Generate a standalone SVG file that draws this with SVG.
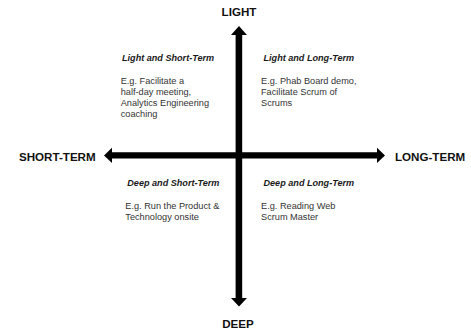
<svg xmlns="http://www.w3.org/2000/svg" width="471" height="329" viewBox="0 0 471 329">
<style>
.axis{font-family:"Liberation Sans",Arial,sans-serif;font-weight:bold;font-size:11.6px;fill:#111}
.qt{font-family:"Liberation Sans",Arial,sans-serif;font-weight:bold;font-style:italic;font-size:9.1px;fill:#1a1a1a}
.body{font-family:"Liberation Sans",Arial,sans-serif;font-size:9.2px;fill:#333}
.arr{fill:#000}
</style>
<rect width="471" height="329" fill="#fff"/>
<g id="connectors">
  <path class="arr" d="M235.6,35 L235.6,298 L231,298 L239,306.5 L247,298 L242.2,298 L242.2,35 L247,35 L239,26 L231,35 Z"/>
  <path class="arr" d="M112,152.3 L377,152.3 L377,147.8 L385,155.4 L377,163 L377,158.5 L112,158.5 L112,163 L104,155.4 L112,147.8 Z"/>
</g>
<g id="light"><text class="axis" x="239" y="16" text-anchor="middle">LIGHT</text></g>
<g id="deep"><text class="axis" x="238" y="328" text-anchor="middle">DEEP</text></g>
<g id="short-term"><text class="axis" x="19" y="160.5">SHORT-TERM</text></g>
<g id="long-term"><text class="axis" x="395" y="160.5">LONG-TERM</text></g>
<g id="light-short">
  <text class="qt" x="122" y="60.5">Light and Short-Term</text>
  <text class="body" x="120.7" y="83.5">E.g. Facilitate a</text>
  <text class="body" x="120.7" y="94.5">half-day meeting,</text>
  <text class="body" x="120.7" y="105.5">Analytics Engineering</text>
  <text class="body" x="120.7" y="116.5">coaching</text>
</g>
<g id="light-long">
  <text class="qt" x="263.5" y="60.5">Light and Long-Term</text>
  <text class="body" x="261" y="83.5">E.g. Phab Board demo,</text>
  <text class="body" x="261" y="94.5">Facilitate Scrum of</text>
  <text class="body" x="261" y="105.5">Scrums</text>
</g>
<g id="deep-short">
  <text class="qt" x="127.3" y="185.5">Deep and Short-Term</text>
  <text class="body" x="125.3" y="209">E.g. Run the Product &amp;</text>
  <text class="body" x="125.3" y="220">Technology onsite</text>
</g>
<g id="deep-long">
  <text class="qt" x="263.5" y="185.5">Deep and Long-Term</text>
  <text class="body" x="261" y="209">E.g. Reading Web</text>
  <text class="body" x="261" y="220">Scrum Master</text>
</g>
</svg>
